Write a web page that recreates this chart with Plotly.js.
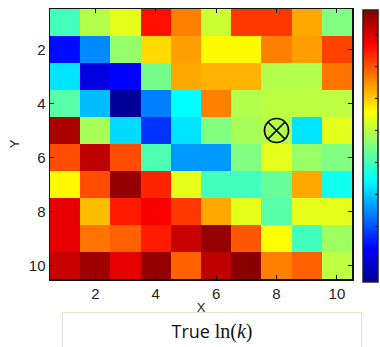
<!DOCTYPE html>
<html>
<head>
<meta charset="utf-8">
<script src="https://cdn.plot.ly/plotly-3.0.1.min.js"></script>
<style>html,body{margin:0;padding:0;background:#fff;}#chart{width:380px;height:347px;}</style>
</head>
<body>
<div id="chart"></div>
<script>
// Grid coordinates
const xCells = [1, 2, 3, 4, 5, 6, 7, 8, 9, 10];
const yCells = [1, 2, 3, 4, 5, 6, 7, 8, 9, 10];
// True ln(k) field (normalized, rows = Y 1..10, columns = X 1..10)
const row1  = [0.44, 0.55, 0.60, 0.86, 0.75, 0.575, 0.82, 0.82, 0.71, 0.50];
const row2  = [0.135, 0.26, 0.52, 0.66, 0.72, 0.63, 0.63, 0.75, 0.72, 0.81];
const row3  = [0.35, 0.09, 0.125, 0.49, 0.71, 0.70, 0.70, 0.55, 0.55, 0.76];
const row4  = [0.46, 0.31, 0.01, 0.25, 0.375, 0.75, 0.55, 0.56, 0.56, 0.56];
const row5  = [0.96, 0.54, 0.34, 0.175, 0.35, 0.50, 0.54, 0.55, 0.35, 0.60];
const row6  = [0.80, 0.94, 0.80, 0.45, 0.275, 0.275, 0.50, 0.60, 0.525, 0.50];
const row7  = [0.63, 0.80, 0.98, 0.84, 0.60, 0.44, 0.44, 0.475, 0.71, 0.39];
const row8  = [0.90, 0.69, 0.85, 0.88, 0.82, 0.71, 0.60, 0.46, 0.60, 0.60];
const row9  = [0.90, 0.76, 0.78, 0.85, 0.93, 0.98, 0.79, 0.625, 0.44, 0.53];
const row10 = [0.93, 0.97, 0.90, 0.98, 0.78, 0.94, 0.99, 0.75, 0.78, 0.56];
// Observation well marker
const wellX = [8];
const wellY = [5];
// Axis ticks
const xTicks = [2, 4, 6, 8, 10];
const yTicks = [2, 4, 6, 8, 10];
const titleText = 'True <span style="font-family:\'Liberation Serif\',serif;font-size:20px;">ln(<i>k</i>)</span>';

const jet = [
  [0, '#00008F'], [0.125, '#0000FF'], [0.375, '#00FFFF'],
  [0.625, '#FFFF00'], [0.875, '#FF0000'], [1, '#800000']
];

const zData = [row1,row2,row3,row4,row5,row6,row7,row8,row9,row10];

const heat = {
  type: 'heatmap', x: xCells, y: yCells, z: zData,
  zmin: 0, zmax: 1, colorscale: jet, zsmooth: false,
  hoverinfo: 'skip',
  colorbar: {
    x: 1.036, xanchor: 'left', xpad: 0, ypad: 0,
    y: 0.493, yanchor: 'middle', len: 272, lenmode: 'pixels',
    thickness: 15, thicknessmode: 'pixels',
    outlinewidth: 1.5, outlinecolor: '#222',
    ticks: 'inside', ticklen: 3, tickwidth: 1.2, tickcolor: '#111',
    showticklabels: false, tick0: 0.085, dtick: 0.1176
  }
};

const well = {
  type: 'scatter', mode: 'markers', x: wellX, y: wellY,
  marker: { symbol: 'circle-x-open', size: 24, color: '#000', line: { width: 1.7, color: '#000' } },
  hoverinfo: 'skip', showlegend: false
};

const axisFont = { family: 'Liberation Sans, Arial, sans-serif', size: 15, color: '#222' };

const layout = {
  width: 380, height: 347,
  margin: { l: 50, r: 28, t: 9, b: 68, pad: 0, autoexpand: false },
  paper_bgcolor: '#fff', plot_bgcolor: '#fff',
  showlegend: false,
  xaxis: {
    range: [0.5, 10.5], tickvals: xTicks, ticks: 'inside', ticklen: 4, tickwidth: 1,
    tickcolor: '#111', mirror: 'ticks', showline: true, linecolor: '#111', linewidth: 1.5,
    showgrid: false, zeroline: false, tickfont: axisFont,
    title: { text: 'X', font: { family: 'Liberation Sans, Arial, sans-serif', size: 13, color: '#222' }, standoff: 2 }
  },
  yaxis: {
    range: [10.5, 0.5], tickvals: yTicks, ticks: 'inside', ticklen: 4, tickwidth: 1,
    tickcolor: '#111', mirror: 'ticks', showline: true, linecolor: '#111', linewidth: 1.5,
    showgrid: false, zeroline: false, tickfont: axisFont,
    title: { text: 'Y', font: { family: 'Liberation Sans, Arial, sans-serif', size: 13, color: '#222' }, standoff: 6 }
  },
  annotations: [{
    xref: 'paper', yref: 'paper', x: 0.536, y: -0.122, xanchor: 'center', yanchor: 'top',
    text: titleText, showarrow: false, width: 298, height: 36, valign: 'middle', align: 'center',
    bordercolor: '#e6e2d6', borderwidth: 1, borderpad: 0,
    font: { family: 'Open Sans, Noto Sans, sans-serif', size: 18, color: '#111' }
  }]
};

Plotly.newPlot('chart', [heat, well], layout, { displayModeBar: false, staticPlot: true });
</script>
</body>
</html>
